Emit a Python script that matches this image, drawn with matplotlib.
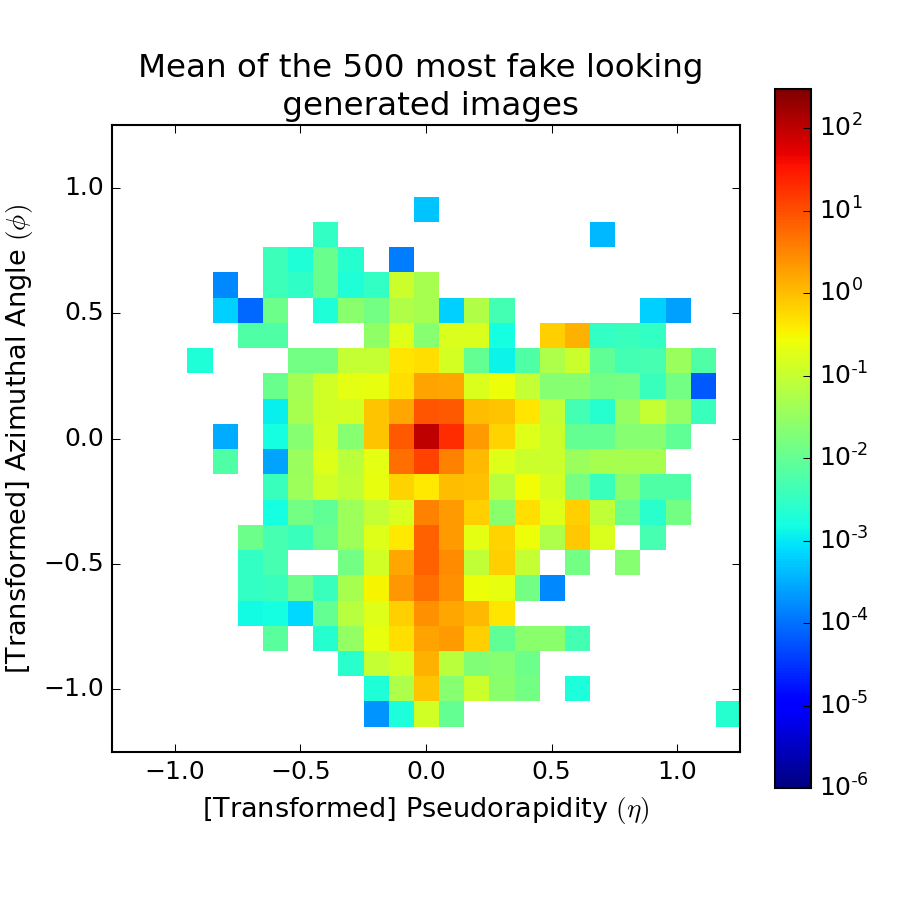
import numpy as np
import matplotlib
matplotlib.use("Agg")
import matplotlib.pyplot as plt
from matplotlib.colors import LogNorm

plt.style.use("classic")

_ = np.nan
# log10 of the mean pixel intensity, rows listed top to bottom (phi = 1.2 ... -1.2)
row_p12 = [_] * 25
row_p11 = [_] * 25
row_p10 = [_] * 25
row_p09 = [_, _, _, _, _, _, _, _, _, _, _, _, -3.3, _, _, _, _, _, _, _, _, _, _, _, _]
row_p08 = [_, _, _, _, _, _, _, _, -2.5, _, _, _, _, _, _, _, _, _, _, -3.4, _, _, _, _, _]
row_p07 = [_, _, _, _, _, _, -2.4, -2.7, -1.95, -2.65, _, -3.9, _, _, _, _, _, _, _, _, _, _, _, _, _]
row_p06 = [_, _, _, _, -3.8, _, -2.4, -2.55, -1.95, -2.7, -2.5, -0.95, -1.3, _, _, _, _, _, _, _, _, _, _, _, _]
row_p05 = [_, _, _, _, -3.2, -4.05, -1.9, _, -2.7, -1.6, -1.85, -1.2, -1.3, -3.2, -1.2, -2.35, _, _, _, _, _, -3.2, -3.6, _, _]
row_p04 = [_, _, _, _, _, -2.2, -2.2, _, _, _, -1.55, -0.75, -1.65, -0.8, -0.8, -2.8, _, -0.15, 0.1, -2.5, -2.45, -2.5, _, _, _]
row_p03 = [_, _, _, -2.7, _, _, _, -1.85, -1.85, -1.0, -1.0, -0.35, -0.3, -0.85, -2.0, -2.9, -2.2, -1.25, -0.95, -2.05, -2.35, -2.3, -1.45, -2.2, _]
row_p02 = [_, _, _, _, _, _, -1.95, -1.35, -0.9, -0.7, -0.65, -0.3, 0.25, 0.2, -0.8, -0.6, -1.0, -1.65, -1.65, -1.85, -1.8, -2.45, -1.85, -4.2, _]
row_p01 = [_, _, _, _, _, _, -2.95, -1.3, -0.9, -0.85, -0.05, 0.2, 0.95, 0.9, 0.0, -0.05, -0.35, -1.0, -2.35, -2.65, -1.5, -1.0, -1.5, -2.45, _]
row_000 = [_, _, _, _, -3.5, _, -2.8, -1.65, -0.85, -1.65, -0.05, 0.9, 2.0, 1.3, 0.3, -0.2, -0.75, -0.95, -2.0, -2.0, -1.65, -1.65, -2.05, _, _]
row_m01 = [_, _, _, _, -2.2, _, -3.55, -1.45, -0.75, -1.1, -0.7, 0.7, 1.1, 0.55, 0.05, -0.75, -0.95, -0.95, -1.45, -1.3, -1.3, -1.3, _, _, _]
row_m02 = [_, _, _, _, _, _, -2.45, -1.4, -0.9, -1.05, -0.65, -0.2, -0.4, 0.0, -0.03, -1.1, -0.55, -0.85, -1.8, -2.45, -1.6, -2.2, -2.2, _, _]
row_m03 = [_, _, _, _, _, _, -2.8, -1.85, -2.05, -1.4, -1.0, -0.8, 0.55, 0.3, -0.15, -1.6, -0.3, -0.75, -0.15, -1.05, -1.9, -2.6, -1.85, _, _]
row_m04 = [_, _, _, _, _, -1.9, -2.3, -2.45, -1.95, -1.4, -0.75, -0.4, 0.85, 0.3, -0.7, -0.2, -0.6, -1.25, -0.1, -0.8, _, -2.3, _, _, _]
row_m05 = [_, _, _, _, _, -2.5, -2.3, _, _, -1.85, -0.9, 0.2, 0.85, 0.45, -1.05, -0.15, -1.0, _, -1.85, _, -1.65, _, _, _, _]
row_m06 = [_, _, _, _, _, -2.5, -2.45, -1.9, -2.45, -1.3, -0.5, 0.35, 0.7, 0.4, -0.6, -0.65, -1.85, -3.8, _, _, _, _, _, _, _]
row_m07 = [_, _, _, _, _, -2.85, -2.8, -3.15, -2.0, -1.15, -0.75, -0.15, 0.4, 0.2, 0.05, -0.35, _, _, _, _, _, _, _, _, _]
row_m08 = [_, _, _, _, _, _, -2.1, _, -2.65, -1.5, -0.65, -0.3, 0.25, 0.3, -0.15, -2.05, -1.6, -1.6, -2.35, _, _, _, _, _, _]
row_m09 = [_, _, _, _, _, _, _, _, _, -2.6, -1.0, -0.85, 0.1, -1.1, -1.7, -1.65, -1.9, _, _, _, _, _, _, _, _]
row_m10 = [_, _, _, _, _, _, _, _, _, _, -2.7, -1.25, -0.05, -1.65, -0.95, -1.6, -1.85, _, -2.75, _, _, _, _, _, _]
row_m11 = [_, _, _, _, _, _, _, _, _, _, -3.7, -2.75, -0.9, -2.0, _, _, _, _, _, _, _, _, _, _, -2.65]
row_m12 = [_] * 25

rows = [row_p12, row_p11, row_p10, row_p09, row_p08, row_p07, row_p06, row_p05, row_p04,
        row_p03, row_p02, row_p01, row_000, row_m01, row_m02, row_m03, row_m04, row_m05,
        row_m06, row_m07, row_m08, row_m09, row_m10, row_m11, row_m12]
mean_image = np.power(10.0, np.array(rows))

cbar_exponents = [-6, -5, -4, -3, -2, -1, 0, 1, 2]

fig = plt.figure(figsize=(6, 6), facecolor="white")
ax = fig.add_axes([0.1244, 0.1644, 0.6978, 0.6967])
im = ax.imshow(mean_image, cmap="jet", interpolation="nearest", aspect="auto",
               norm=LogNorm(vmin=1e-6, vmax=300), extent=(-1.25, 1.25, -1.25, 1.262))
ax.set_xlim(-1.25, 1.25)
ax.set_ylim(-1.25, 1.25)
ax.set_xticks([-1.0, -0.5, 0.0, 0.5, 1.0])
ax.set_yticks([-1.0, -0.5, 0.0, 0.5, 1.0])
ax.set_xlabel(r"[Transformed] Pseudorapidity $(\eta)$", fontsize=13)
ax.set_ylabel(r"[Transformed] Azimuthal Angle $(\phi)$", fontsize=13, labelpad=4)
ax.set_title("Mean of the 500 most fake looking \n generated images", fontsize=15.6,
             linespacing=1.26)

cax = fig.add_axes([0.8611, 0.1244, 0.04, 0.7767])
cb = fig.colorbar(im, cax=cax)
cb.set_ticks([10.0 ** e for e in cbar_exponents])
# short hyphen in the exponents rather than a full minus sign
cb.set_ticklabels([r"$\mathdefault{10^{%s%d}}$" % (r"\text{-}" if e < 0 else "", abs(e))
                   for e in cbar_exponents])
cb.ax.minorticks_off()

fig.savefig("out.png", dpi=150, facecolor="white")
